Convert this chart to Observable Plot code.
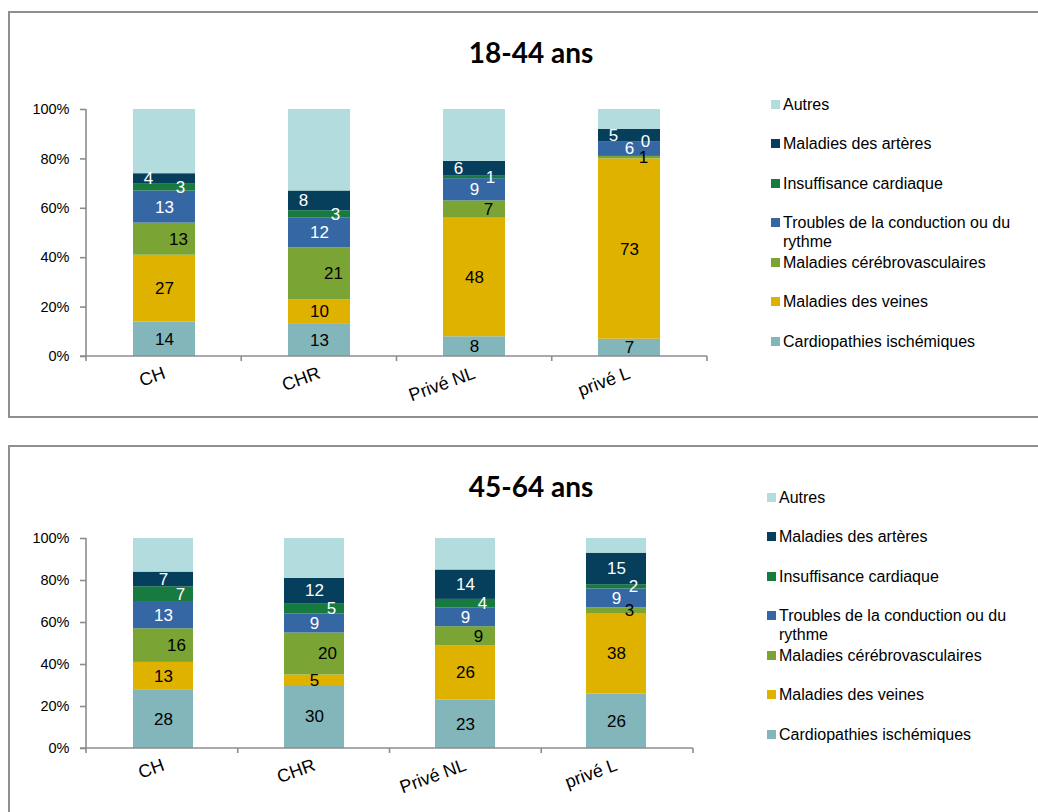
<!DOCTYPE html>
<html>
<head>
<meta charset="utf-8">
<script src="https://cdn.jsdelivr.net/npm/d3@7"></script>
<script src="https://cdn.jsdelivr.net/npm/@observablehq/plot@0.6"></script>
<style>
  html, body { margin: 0; padding: 0; background: #fff; }
  body { width: 1038px; height: 812px; overflow: hidden; font-family: "Liberation Sans", Arial, sans-serif; }
  #page { position: relative; width: 1038px; height: 812px; overflow: hidden; }
  .frame { position: absolute; border: 2px solid #8f8f8f; border-right: none; box-sizing: border-box; }
  .title { position: absolute; left: 0; width: 1062px; text-align: center; font-family: Lato, "Open Sans", sans-serif; font-weight: 700; font-size: 28px; line-height: 28px; color: #000; }
  .plot { position: absolute; left: 0; }
  .legend { position: absolute; }
  .legend .item { position: relative; height: 39.5px; }
  .legend .sw { position: absolute; left: 0; top: 5px; width: 9px; height: 9px; }
  .legend .lab { position: absolute; left: 12px; top: 0; width: 240px; font-size: 16px; line-height: 19px; color: #000; }
</style>
</head>
<body>
<div id="page"></div>
<script>
// ---------- data ----------
const categories = ["CH", "CHR", "Privé NL", "privé L"];
// stacking order, bottom to top
const seriesNames = [
  "Cardiopathies ischémiques",
  "Maladies des veines",
  "Maladies cérébrovasculaires",
  "Troubles de la conduction ou du rythme",
  "Insuffisance cardiaque",
  "Maladies des artères",
  "Autres"
];
const seriesColors = ["#82b6ba", "#e0b200", "#7aa534", "#3567a4", "#177a3e", "#063f5b", "#b3dcdf"];
const yTicks = [0, 20, 40, 60, 80, 100];

// 18-44 ans
const cardio1844   = [14, 13, 8, 7];
const veines1844   = [27, 10, 48, 73];
const cerebro1844  = [13, 21, 7, 1];
const troubles1844 = [13, 12, 9, 6];
const insuff1844   = [3, 3, 1, 0];
const arteres1844  = [4, 8, 6, 5];
const autres1844   = [26, 33, 21, 8];

// 45-64 ans
const cardio4564   = [28, 30, 23, 26];
const veines4564   = [13, 5, 26, 38];
const cerebro4564  = [16, 20, 9, 3];
const troubles4564 = [13, 9, 9, 9];
const insuff4564   = [7, 5, 4, 2];
const arteres4564  = [7, 12, 14, 15];
const autres4564   = [16, 19, 15, 7];

// ---------- helpers ----------
const AXIS = "#8c8c8c";
const FONT = "'Liberation Sans', Arial, sans-serif";

function buildRows(seriesArrays) {
  const rows = [];
  seriesArrays.forEach((arr, si) => {
    arr.forEach((v, ci) => rows.push({cat: categories[ci], series: seriesNames[si], value: v}));
  });
  return rows;
}

function axisLines(index, scales, values, dims) {
  const g = d3.create("svg:g").attr("stroke", AXIS).attr("stroke-width", 1.6).attr("fill", "none");
  const x0 = dims.marginLeft, x1 = dims.width - dims.marginRight;
  const yb = scales.y(0), yt = scales.y(100);
  g.append("line").attr("x1", x0).attr("x2", x0).attr("y1", yt).attr("y2", yb);
  g.append("line").attr("x1", x0 - 6).attr("x2", x1).attr("y1", yb).attr("y2", yb);
  const n = categories.length, step = (x1 - x0) / n;
  for (let i = 0; i <= n; i++) {
    g.append("line").attr("x1", x0 + i * step).attr("x2", x0 + i * step).attr("y1", yb).attr("y2", yb + 5);
  }
  return g.node();
}

function makePanel(rows, opts) {
  const lab = (names, fill, dx) => Plot.text(rows, Plot.stackY({
    x: "cat", y: "value", z: "series", order: seriesNames,
    text: d => names.includes(d.series) ? String(d.value) : null,
    fill, dx, fontSize: 17, fontFamily: FONT
  }));
  return Plot.plot({
    width: opts.width, height: opts.height,
    marginTop: 19, marginBottom: opts.marginBottom, marginLeft: 86, marginRight: opts.marginRight,
    style: {fontFamily: FONT, fontSize: "14.5px", color: "#000", background: "transparent"},
    x: {domain: categories, paddingInner: 0.6, paddingOuter: 0.3},
    y: {domain: [0, 100]},
    color: {domain: seriesNames, range: seriesColors},
    marks: [
      Plot.barY(rows, {x: "cat", y: "value", fill: "series", order: seriesNames, inset: 0}),
      lab(["Cardiopathies ischémiques", "Maladies des veines"], "black", 0),
      lab(["Maladies cérébrovasculaires"], "black", opts.dxCerebro),
      lab(["Troubles de la conduction ou du rythme"], "white", 0),
      lab(["Insuffisance cardiaque"], "white", opts.dxInsuff),
      lab(["Maladies des artères"], "white", opts.dxArteres),
      axisLines,
      Plot.axisY({ticks: yTicks, tickFormat: d => d + "%", tickSize: 6, tickPadding: 11, stroke: AXIS, fill: "black", strokeWidth: 1.6, fontSize: 14.5, label: null}),
      Plot.axisX({tickSize: 0, tickRotate: -20, tickPadding: 16, fill: "black", fontSize: 18, label: null})
    ]
  });
}

function addPanel(page, cfg) {
  const frame = document.createElement("div");
  frame.className = "frame";
  Object.assign(frame.style, {left: "8px", top: cfg.frameTop + "px", width: "1100px", height: cfg.frameHeight + "px"});
  page.appendChild(frame);

  const title = document.createElement("div");
  title.className = "title";
  title.style.top = cfg.titleTop + "px";
  title.textContent = cfg.title;
  page.appendChild(title);

  const chart = makePanel(cfg.rows, cfg);
  chart.classList.add("plot");
  chart.style.top = cfg.plotTop + "px";
  chart.style.position = "absolute";
  chart.style.left = "0px";
  page.appendChild(chart);

  const legend = document.createElement("div");
  legend.className = "legend";
  legend.style.left = cfg.legendLeft + "px";
  legend.style.top = cfg.legendTop + "px";
  seriesNames.slice().reverse().forEach(name => {
    const item = document.createElement("div");
    item.className = "item";
    const sw = document.createElement("span");
    sw.className = "sw";
    sw.style.background = seriesColors[seriesNames.indexOf(name)];
    const tx = document.createElement("span");
    tx.className = "lab";
    tx.textContent = name;
    item.appendChild(sw); item.appendChild(tx);
    legend.appendChild(item);
  });
  page.appendChild(legend);
}

const page = document.getElementById("page");

addPanel(page, {
  title: "18-44 ans",
  rows: buildRows([cardio1844, veines1844, cerebro1844, troubles1844, insuff1844, arteres1844, autres1844]),
  frameTop: 11, frameHeight: 407, titleTop: 38,
  plotTop: 90, width: 720, height: 330, marginBottom: 64, marginRight: 13,
  dxCerebro: 14, dxInsuff: 16, dxArteres: -16,
  legendLeft: 771, legendTop: 94.5
});

addPanel(page, {
  title: "45-64 ans",
  rows: buildRows([cardio4564, veines4564, cerebro4564, troubles4564, insuff4564, arteres4564, autres4564]),
  frameTop: 445, frameHeight: 420, titleTop: 472,
  plotTop: 519, width: 705, height: 292, marginBottom: 63, marginRight: 12,
  dxCerebro: 13, dxInsuff: 17, dxArteres: 0,
  legendLeft: 767, legendTop: 487.5
});
</script>
</body>
</html>
